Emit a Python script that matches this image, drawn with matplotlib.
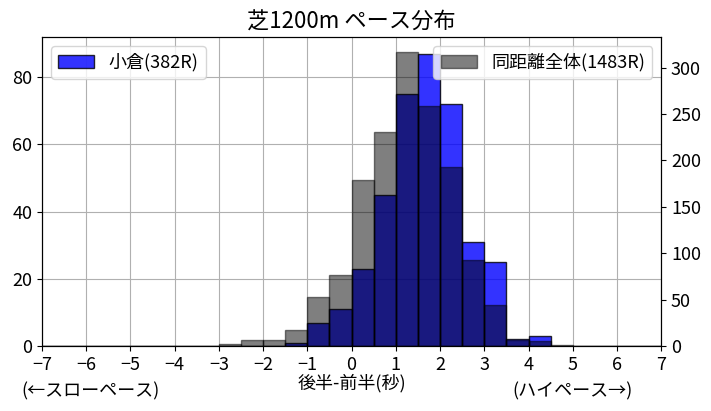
import matplotlib
matplotlib.use("Agg")
import matplotlib.pyplot as plt
import numpy as np

plt.rcParams["font.family"] = "Noto Sans CJK JP"

bin_edges = np.arange(-7, 7.01, 0.5)
kokura = [0]*8 + [0, 0, 0, 1, 7, 11, 23, 45, 75, 87, 72, 31, 25, 2, 3, 0, 0, 0, 0, 0]
overall = [0]*8 + [2, 6, 6, 17, 53, 77, 179, 231, 317, 259, 193, 93, 44, 7, 5, 1, 0, 0, 0, 0]
kokura = kokura[:len(bin_edges)-1]
overall = overall[:len(bin_edges)-1]
centers = (bin_edges[:-1] + bin_edges[1:]) / 2

fig, ax = plt.subplots(figsize=(7.11, 4.11), dpi=100)
fig.subplots_adjust(left=0.059, right=0.93, top=0.91, bottom=0.158)
ax.hist(centers, bins=bin_edges, weights=kokura, color="blue", alpha=0.8,
        edgecolor="black", label="小倉(382R)")
ax.set_xlim(-7, 7)
ax.set_ylim(0, 92)
ax.set_xticks(range(-7, 8))
ax.grid(True)
ax.set_axisbelow(True)
ax2 = ax.twinx()
ax2.hist(centers, bins=bin_edges, weights=overall, color="black", alpha=0.5,
         edgecolor="black", label="同距離全体(1483R)")
ax2.set_ylim(0, 333)
for a in (ax, ax2):
    a.tick_params(labelsize=13)
ax.legend(loc="upper left", fontsize=13)
ax2.legend(loc="upper right", fontsize=13)
ax.set_title("芝1200m ペース分布", fontsize=16)
ax.set_xlabel("後半-前半(秒)", fontsize=13, labelpad=0)
fig.text(0.03, 0.035, "(←スローペース)", fontsize=13)
fig.text(0.72, 0.035, "(ハイペース→)", fontsize=13)
fig.savefig("out.png")
